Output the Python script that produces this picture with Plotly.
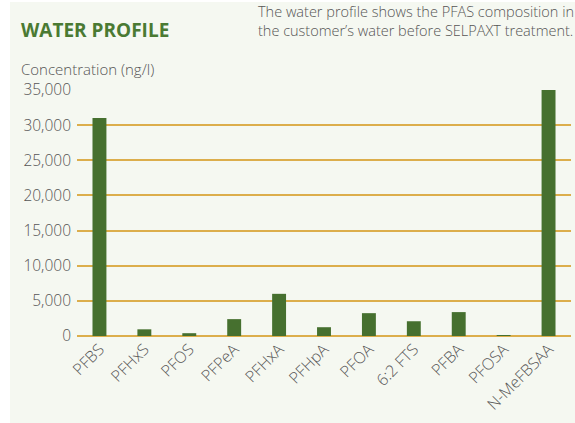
import plotly.graph_objects as go

categories = ["PFBS", "PFHxS", "PFOS", "PFPeA", "PFHxA", "PFHpA", "PFOA", "6:2 FTS", "PFBA", "PFOSA", "N-MeFBSAA"]
concentration = [31000, 950, 400, 2400, 6000, 1250, 3250, 2100, 3400, 100, 35000]
y_ticks = [0, 5000, 10000, 15000, 20000, 25000, 30000, 35000]
y_ticklabels = ["0", "5,000", "10,000", "15,000", "20,000", "25,000", "30,000", "35,000"]

W, H = 575, 423
L, R, T, B = 77, 4, 90, 87
pw, ph = W - L - R, H - T - B

BG = "#f5f8f1"
GREEN = "#46702f"
GRID = "#dcae4c"
TXT = "#555555"
FONT = "Open Sans"

fig = go.Figure(go.Bar(
    x=categories, y=concentration, marker_color=GREEN, marker_line_width=0, width=0.31,
))

fig.update_layout(
    width=W, height=H,
    margin=dict(l=L, r=R, t=T, b=B, autoexpand=False),
    paper_bgcolor=BG, plot_bgcolor=BG,
    showlegend=False,
    font=dict(family=FONT, color=TXT, weight=300),
    xaxis=dict(range=[-0.5, 10.5], tickangle=-45, tickfont=dict(size=16, color=TXT, weight=300),
               showgrid=False, zeroline=False, showline=False, ticks="", automargin=False),
    yaxis=dict(range=[0, 35000], tickvals=y_ticks, ticktext=y_ticklabels,
               tickfont=dict(size=15.5, color=TXT, weight=300), showgrid=True, gridcolor=GRID, gridwidth=1.5,
               zeroline=True, zerolinecolor=GRID, zerolinewidth=1.5, showline=False, ticks="",
               ticklabelstandoff=5, automargin=False),
    bargap=0.69,
)

def px_x(p):
    return (p - L) / pw

def px_y(p):
    return 1 - (p - T) / ph

# white strip on the left and top
fig.add_shape(type="rect", xref="paper", yref="paper", x0=px_x(0), x1=px_x(10), y0=px_y(H), y1=px_y(0),
              fillcolor="white", line_width=0, layer="below")
fig.add_shape(type="rect", xref="paper", yref="paper", x0=px_x(0), x1=px_x(W), y0=px_y(2), y1=px_y(0),
              fillcolor="white", line_width=0, layer="below")

fig.add_annotation(text="<b>WATER PROFILE</b>", xref="paper", yref="paper", x=px_x(19), y=px_y(30),
                   xanchor="left", yanchor="middle", showarrow=False,
                   font=dict(family=FONT, size=19, color="#4a7a33", weight=700))
fig.add_annotation(text="The water profile shows the PFAS composition in<br>the customer’s water before SELPAXT treatment.",
                   xref="paper", yref="paper", x=px_x(256), y=px_y(21), xanchor="left", yanchor="middle",
                   align="left", showarrow=False, font=dict(family=FONT, size=14.5, color=TXT, weight=300))
fig.add_annotation(text="Concentration (ng/l)", xref="paper", yref="paper", x=px_x(19), y=px_y(69),
                   xanchor="left", yanchor="middle", showarrow=False,
                   font=dict(family=FONT, size=15, color=TXT, weight=300))

fig.write_html("out.html", config={"displayModeBar": False},
               post_script="document.body.style.margin='0';document.body.style.overflow='hidden';")
